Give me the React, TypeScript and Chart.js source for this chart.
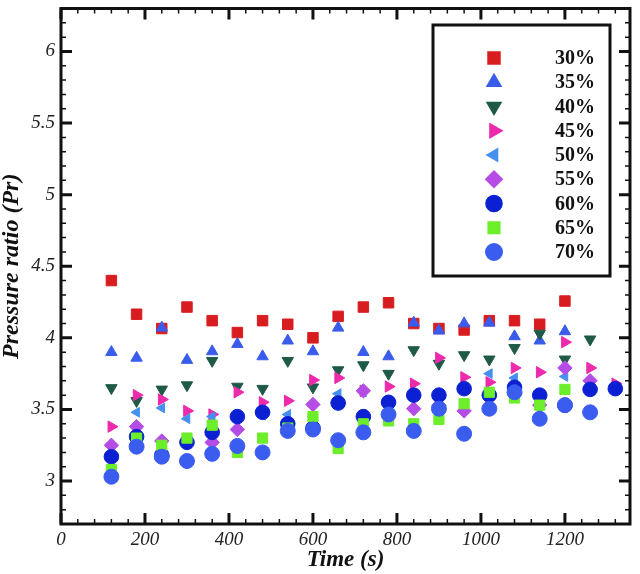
import { useEffect, useRef } from "react";
import { Chart, registerables } from "chart.js";
import { drawPoint } from "chart.js/helpers";

Chart.register(...registerables);

const FONT = '"Liberation Serif", "Times New Roman", serif';

// sample times (s)
const times = [120, 180, 240, 300, 360, 420, 480, 540, 600, 660, 720, 780, 840, 900, 960, 1020, 1080, 1140, 1200, 1260, 1320];

const seriesLabels = ["30%", "35%", "40%", "45%", "50%", "55%", "60%", "65%", "70%"];

// pressure ratio per series
const pr30 = [4.40, 4.165, 4.065, 4.215, 4.12, 4.037, 4.12, 4.095, 4.0, 4.15, 4.215, 4.245, 4.10, 4.065, 4.055, 4.12, 4.12, 4.095, 4.257, null, null];
const pr35 = [3.90, 3.86, 4.07, 3.845, 3.905, 3.956, 3.87, 3.98, 3.905, 4.07, 3.90, 3.87, 4.105, 4.05, 4.10, 4.105, 4.01, 3.98, 4.045, null, null];
const pr40 = [3.65, 3.56, 3.64, 3.67, 3.84, 3.66, 3.645, 3.84, 3.655, 3.775, 3.81, 3.75, 3.915, 3.82, 3.88, 3.85, 3.93, 4.03, 3.85, 3.99, null];
const pr45 = [3.38, 3.60, 3.57, 3.49, 3.465, 3.62, 3.55, 3.56, 3.705, 3.72, 3.63, 3.66, 3.68, 3.86, 3.725, 3.69, 3.79, 3.76, 3.97, 3.79, 3.68];
const pr50 = [3.17, 3.48, 3.51, 3.435, 3.45, 3.45, 3.46, 3.465, 3.45, 3.61, 3.62, 3.55, 3.60, 3.60, 3.64, 3.75, 3.72, 3.60, 3.73, null, null];
const pr55 = [3.25, 3.38, 3.28, 3.27, 3.27, 3.36, 3.48, 3.40, 3.535, 3.545, 3.63, 3.55, 3.505, 3.53, 3.49, 3.60, 3.61, 3.53, 3.79, 3.70, null];
const pr60 = [3.17, 3.31, 3.18, 3.27, 3.34, 3.45, 3.48, 3.40, 3.37, 3.545, 3.45, 3.55, 3.60, 3.60, 3.645, 3.60, 3.655, 3.60, 3.53, 3.64, 3.645];
const pr65 = [3.08, 3.30, 3.25, 3.30, 3.39, 3.20, 3.30, 3.37, 3.45, 3.227, 3.40, 3.42, 3.40, 3.43, 3.54, 3.62, 3.58, 3.53, 3.64, null, null];
const pr70 = [3.03, 3.24, 3.17, 3.14, 3.19, 3.245, 3.20, 3.35, 3.36, 3.285, 3.34, 3.465, 3.35, 3.505, 3.33, 3.505, 3.62, 3.435, 3.53, 3.48, null];

const seriesValues = [pr30, pr35, pr40, pr45, pr50, pr55, pr60, pr65, pr70];

const xTickLabels = [0, 200, 400, 600, 800, 1000, 1200];
const yTickLabels = [3, 3.5, 4, 4.5, 5, 5.5, 6];

const markers = [
  { style: "rect", rotation: 0, radius: 7.4, color: "#d81d20" },
  { style: "triangle", rotation: 0, radius: 6.6, color: "#3a5cec" },
  { style: "triangle", rotation: 180, radius: 6.6, color: "#1f5947" },
  { style: "triangle", rotation: 90, radius: 6.6, color: "#ec2aab" },
  { style: "triangle", rotation: 270, radius: 5.6, color: "#4590ee" },
  { style: "rectRot", rotation: 0, radius: 7.2, color: "#b64ce6" },
  { style: "circle", rotation: 0, radius: 7.3, color: "#0b20d2" },
  { style: "rect", rotation: 0, radius: 7.2, color: "#6cee2a" },
  { style: "circle", rotation: 0, radius: 7.5, color: "#3a5df0" },
];

const frameTicks = {
  id: "frameTicks",
  afterDraw(chart: any) {
    const { ctx, chartArea: a, scales } = chart;
    const xs = scales.x;
    const ys = scales.y;
    ctx.save();
    ctx.strokeStyle = "#111";
    for (let t = 0; t <= 1355; t += 40) {
      const major = t % 200 === 0;
      const px = xs.getPixelForValue(t);
      const len = major ? 11 : 5;
      ctx.lineWidth = major ? 3 : 1.5;
      ctx.beginPath();
      ctx.moveTo(px, a.bottom);
      ctx.lineTo(px, a.bottom - len);
      ctx.moveTo(px, a.top);
      ctx.lineTo(px, a.top + len);
      ctx.stroke();
    }
    for (let k = 27; k <= 63; k++) {
      const major = k % 5 === 0;
      const py = ys.getPixelForValue(k / 10);
      const len = major ? 11 : 5;
      ctx.lineWidth = major ? 3 : 1.5;
      ctx.beginPath();
      ctx.moveTo(a.left, py);
      ctx.lineTo(a.left + len, py);
      ctx.moveTo(a.right, py);
      ctx.lineTo(a.right - len, py);
      ctx.stroke();
    }
    ctx.lineWidth = 3;
    ctx.strokeRect(a.left, a.top, a.right - a.left, a.bottom - a.top);
    ctx.restore();
  },
};

const legendBox = {
  id: "legendBox",
  afterDraw(chart: any) {
    const ctx = chart.ctx;
    ctx.save();
    ctx.fillStyle = "#fff";
    ctx.fillRect(433, 25, 177, 251);
    ctx.lineWidth = 3;
    ctx.strokeStyle = "#111";
    ctx.strokeRect(433, 25, 177, 251);
    markers.forEach((m, i) => {
      const cy = 58 + i * 24.25;
      ctx.fillStyle = m.color;
      ctx.strokeStyle = m.color;
      drawPoint(ctx, { pointStyle: m.style, rotation: m.rotation, radius: m.radius, borderWidth: 1 } as any, 494, cy);
      ctx.fillStyle = "#111";
      ctx.font = `bold 20px ${FONT}`;
      ctx.textAlign = "left";
      ctx.textBaseline = "middle";
      ctx.fillText(seriesLabels[i], 555, cy + 1);
    });
    ctx.restore();
  },
};

const App = () => {
  const canvasRef = useRef<HTMLCanvasElement>(null);

  useEffect(() => {
    if (!canvasRef.current) return;

    const datasets = seriesValues.map((vals, i) => ({
      label: seriesLabels[i],
      data: times
        .map((t, j) => ({ x: t, y: vals[j] }))
        .filter((p) => p.y !== null),
      showLine: false,
      pointStyle: markers[i].style,
      pointRotation: markers[i].rotation,
      pointRadius: markers[i].radius,
      backgroundColor: markers[i].color,
      borderColor: markers[i].color,
      pointBorderWidth: 1,
      order: seriesLabels.length - i,
    }));

    const chart = new Chart(canvasRef.current, {
      type: "scatter",
      data: { datasets: datasets as any },
      options: {
        responsive: false,
        animation: false,
        layout: { padding: { top: 4, right: 10, left: 0, bottom: 0 } },
        plugins: {
          legend: { display: false },
          tooltip: { enabled: false },
        },
        scales: {
          x: {
            type: "linear",
            min: 0,
            max: 1355,
            afterFit: (s: any) => {
              s.height = 50;
            },
            afterBuildTicks: (s: any) => {
              s.ticks = xTickLabels.map((v) => ({ value: v }));
            },
            grid: { display: false, drawTicks: false },
            border: { display: false },
            ticks: {
              color: "#222",
              padding: 5,
              maxRotation: 0,
              autoSkip: false,
              callback: (v: any) => String(v),
              font: { family: FONT, style: "italic", size: 19 },
            },
            title: {
              display: true,
              text: "Time (s)",
              color: "#111",
              padding: 0,
              font: { family: FONT, style: "italic", weight: "bold", size: 23, lineHeight: 1.2 },
            },
          },
          y: {
            type: "linear",
            min: 2.7,
            max: 6.3,
            afterFit: (s: any) => {
              s.width = 61;
              s.paddingTop = 0;
              s.paddingBottom = 0;
            },
            afterBuildTicks: (s: any) => {
              s.ticks = yTickLabels.map((v) => ({ value: v }));
            },
            grid: { display: false, drawTicks: false },
            border: { display: false },
            ticks: {
              color: "#222",
              padding: 6,
              autoSkip: false,
              callback: (v: any) => String(v),
              font: { family: FONT, style: "italic", size: 19 },
            },
            title: {
              display: true,
              text: "Pressure ratio (Pr)",
              color: "#111",
              padding: 0,
              font: { family: FONT, style: "italic", weight: "bold", size: 24, lineHeight: 1 },
            },
          },
        },
      },
      plugins: [frameTicks, legendBox],
    });

    return () => {
      chart.destroy();
    };
  }, []);

  return (
    <div style={{ position: "fixed", left: 0, top: 0, width: 640, height: 574, background: "#fff" }}>
      <canvas ref={canvasRef} width={640} height={574} style={{ display: "block" }} />
    </div>
  );
};

export default App;
